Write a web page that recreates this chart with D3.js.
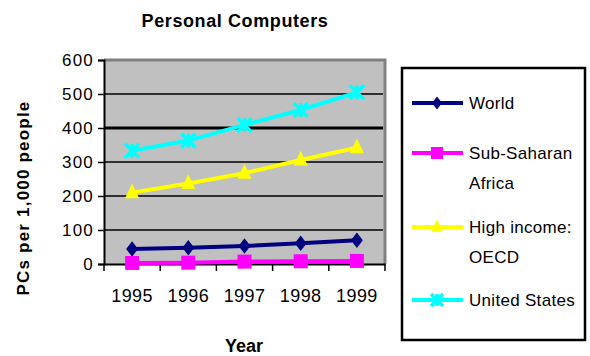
<!DOCTYPE html>
<html>
<head>
<meta charset="utf-8">
<script src="https://cdn.jsdelivr.net/npm/d3@7/dist/d3.min.js"></script>
<style>
  body { margin: 0; background: #fff; }
  text { font-family: "Liberation Sans", Arial, sans-serif; }
</style>
</head>
<body>
<svg id="chart" width="590" height="356"></svg>
<script>
// PCs per 1,000 people, 1995-1999
const years = ["1995", "1996", "1997", "1998", "1999"];
const world = [44, 48, 53, 61, 70];
const subSaharan = [3, 4, 7, 8, 9];
const highIncome = [210, 237, 267, 306, 342];
const unitedStates = [333, 363, 409, 453, 505];
const yTicks = [0, 100, 200, 300, 400, 500, 600];

const series = [
  { name: ["World"], values: world, color: "#000080", marker: "diamond" },
  { name: ["Sub-Saharan", "Africa"], values: subSaharan, color: "#ff00ff", marker: "square" },
  { name: ["High income:", "OECD"], values: highIncome, color: "#ffff00", marker: "triangle" },
  { name: ["United States"], values: unitedStates, color: "#00ffff", marker: "star" }
];

const svg = d3.select("#chart");
const plot = { left: 104, right: 385, top: 60, bottom: 264 };

const x = d3.scaleBand().domain(years).range([plot.left, plot.right]);
const y = d3.scaleLinear().domain([0, 600]).range([plot.bottom, plot.top]);

// plot background
svg.append("rect")
  .attr("x", plot.left).attr("y", plot.top)
  .attr("width", plot.right - plot.left).attr("height", plot.bottom - plot.top)
  .attr("fill", "#c0c0c0");

// frame on the top and right
svg.append("path")
  .attr("d", `M${plot.left},${plot.top}H${plot.right}V${plot.bottom}`)
  .attr("fill", "none").attr("stroke", "#808080").attr("stroke-width", 3);

// horizontal gridlines
svg.append("g").selectAll("line")
  .data(yTicks.filter(t => t > 0 && t < 600))
  .join("line")
  .attr("x1", plot.left).attr("x2", plot.right - 2)
  .attr("y1", d => y(d)).attr("y2", d => y(d))
  .attr("stroke", "#000")
  .attr("stroke-width", d => d === 400 ? 3 : 1.5);

// y axis
const yAxis = svg.append("g")
  .attr("transform", `translate(${plot.left},0)`)
  .call(d3.axisLeft(y).tickValues(yTicks).tickSize(6).tickPadding(4));
yAxis.select(".domain").attr("stroke", "#000").attr("stroke-width", 2);
yAxis.selectAll(".tick line").attr("stroke", "#000").attr("stroke-width", 1.5);
yAxis.selectAll(".tick text")
  .attr("font-size", 17).attr("letter-spacing", 1.2).attr("fill", "#000");

// x axis with ticks at category boundaries
const xAxis = svg.append("g")
  .attr("transform", `translate(0,${plot.bottom})`)
  .call(d3.axisBottom(x).tickSize(0).tickPadding(25));
xAxis.select(".domain").attr("stroke", "#000").attr("stroke-width", 2);
xAxis.selectAll(".tick text")
  .attr("font-size", 18).attr("letter-spacing", 0.4).attr("fill", "#000");
xAxis.append("g").selectAll("line")
  .data(years.map(d => x(d)).concat([plot.right]))
  .join("line")
  .attr("x1", d => d).attr("x2", d => d)
  .attr("y1", 0).attr("y2", 7)
  .attr("stroke", "#000").attr("stroke-width", 1.5);

// markers
function drawMarker(g, type, color, size) {
  const s = size;
  if (type === "diamond") {
    g.append("path").attr("d", `M0,${-s * 1.1}L${s * 0.85},0L0,${s * 1.1}L${-s * 0.85},0Z`).attr("fill", color);
  } else if (type === "square") {
    g.append("rect").attr("x", -s).attr("y", -s).attr("width", 2 * s).attr("height", 2 * s).attr("fill", color);
  } else if (type === "triangle") {
    g.append("path").attr("d", `M0,${-s * 1.3}L${s},${s * 0.8}L${-s},${s * 0.8}Z`).attr("fill", color);
  } else if (type === "star") {
    g.append("path")
      .attr("d", `M${-s},${-s}L${s},${s}M${-s},${s}L${s},${-s}M0,${-s}V${s}`)
      .attr("stroke", color).attr("stroke-width", 3.5).attr("fill", "none");
  }
}

const line = d3.line()
  .x((d, i) => x(years[i]) + x.bandwidth() / 2)
  .y(d => y(d));

series.forEach(s => {
  svg.append("path")
    .datum(s.values)
    .attr("d", line)
    .attr("fill", "none")
    .attr("stroke", s.color)
    .attr("stroke-width", 4);
  s.values.forEach((v, i) => {
    const g = svg.append("g")
      .attr("transform", `translate(${x(years[i]) + x.bandwidth() / 2},${y(v)})`);
    drawMarker(g, s.marker, s.color, 7);
  });
});

// titles
svg.append("text")
  .attr("x", 235).attr("y", 27)
  .attr("text-anchor", "middle")
  .attr("font-size", 18).attr("font-weight", "bold").attr("letter-spacing", 0.6)
  .text("Personal Computers");

svg.append("text")
  .attr("x", 244).attr("y", 352)
  .attr("text-anchor", "middle")
  .attr("font-size", 18).attr("font-weight", "bold")
  .text("Year");

svg.append("text")
  .attr("transform", "translate(29,198) rotate(-90)")
  .attr("text-anchor", "middle")
  .attr("font-size", 17).attr("font-weight", "bold").attr("letter-spacing", 1.2)
  .text("PCs per 1,000 people");

// legend
const legend = svg.append("g");
legend.append("rect")
  .attr("x", 402).attr("y", 68)
  .attr("width", 183).attr("height", 272)
  .attr("fill", "#fff").attr("stroke", "#000").attr("stroke-width", 2.5);

const legendY = [103, 153, 227, 300];
series.forEach((s, i) => {
  const ly = legendY[i];
  legend.append("line")
    .attr("x1", 412).attr("x2", 463)
    .attr("y1", ly).attr("y2", ly)
    .attr("stroke", s.color).attr("stroke-width", 4);
  const g = legend.append("g").attr("transform", `translate(437,${ly})`);
  drawMarker(g, s.marker, s.color, 6);
  s.name.forEach((t, j) => {
    legend.append("text")
      .attr("x", 469).attr("y", ly + 6 + j * 30)
      .attr("font-size", 17).attr("letter-spacing", 0.3).attr("fill", "#000")
      .text(t);
  });
});
</script>
</body>
</html>
